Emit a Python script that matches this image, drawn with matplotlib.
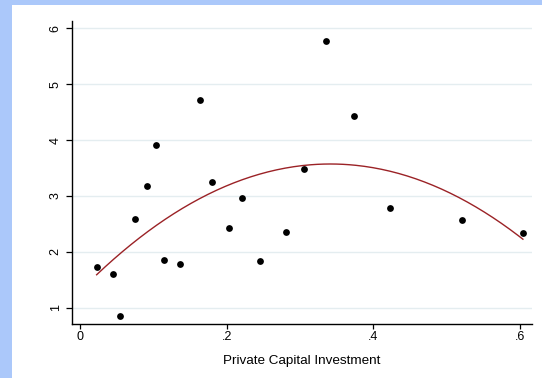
import matplotlib.pyplot as plt
import matplotlib.patches as mpatches
import numpy as np

plt.rcParams['font.family'] = ['Liberation Sans', 'DejaVu Sans']

# private capital investment (x) and outcome (y), one entry per observation
investment = [0.0227, 0.045, 0.054, 0.075, 0.0918, 0.103, 0.114, 0.137, 0.1636,
              0.180, 0.203, 0.221, 0.245, 0.281, 0.3055, 0.3355, 0.373, 0.423, 0.5205, 0.604]
outcome = [1.723, 1.61, 0.857, 2.58, 3.18, 3.92, 1.85, 1.78, 4.715,
           3.254, 2.42, 2.957, 1.84, 2.354, 3.476, 5.766, 4.435, 2.778, 2.569, 2.342]
x_ticks = [0, 0.2, 0.4, 0.6]
x_labels = ['0', '.2', '.4', '.6']
y_ticks = [1, 2, 3, 4, 5, 6]

x = np.array(investment)
y = np.array(outcome)

fig = plt.figure(figsize=(5.42, 3.78), dpi=100, facecolor='#abc8fa')
# white slide panel behind the graph
fig.patches.append(mpatches.Rectangle((12 / 542, 0), 1, 1 - 5 / 378, transform=fig.transFigure,
                                      facecolor='white', edgecolor='none', zorder=-1))

ax = fig.add_axes([72 / 542, 54 / 378, 459.7 / 542, 303.3 / 378])
ax.set_zorder(2)
ax.set_facecolor('white')

# quadratic fit over the observed range
coef = np.polyfit(x, y, 2)
xs = np.linspace(x.min(), x.max(), 200)
ax.plot(xs, np.polyval(coef, xs), color='#9b2226', lw=1.0, zorder=2)
ax.scatter(x, y, s=24, color='black', zorder=3, linewidths=0)

ax.set_xlim(-0.0109, 0.616)
ax.set_ylim(0.708, 6.136)
ax.set_xticks(x_ticks)
ax.set_xticklabels(x_labels)
ax.set_yticks(y_ticks)
ax.set_yticklabels([str(v) for v in y_ticks], rotation=90, va='center')
ax.yaxis.grid(True, color='#e4edf0', lw=1.0)
ax.set_axisbelow(True)

for side in ['top', 'right']:
    ax.spines[side].set_visible(False)
for side in ['left', 'bottom']:
    ax.spines[side].set_linewidth(1.0)
ax.tick_params(axis='x', length=3.5, width=0.9, pad=1.5, labelsize=9)
ax.tick_params(axis='y', length=4, width=0.9, pad=3.5, labelsize=9)

ax.set_xlabel('Private Capital Investment', fontsize=9.7, labelpad=9)

fig.savefig('out.png', dpi=100, facecolor=fig.get_facecolor())
